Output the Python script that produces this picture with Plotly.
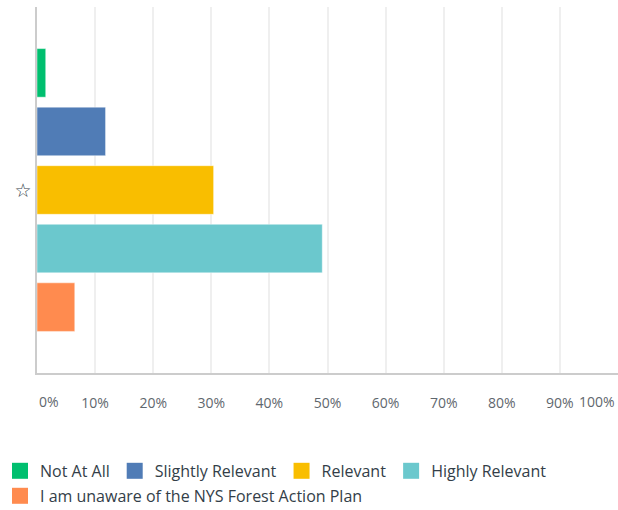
import plotly.graph_objects as go

categories = ["☆"]
series_names = ["Not At All", "Slightly Relevant", "Relevant", "Highly Relevant",
                "I am unaware of the NYS Forest Action Plan"]
series_values = [1.5, 11.8, 30.4, 49.1, 6.5]
series_colors = ["#00BF6F", "#507CB6", "#F9BE00", "#6BC8CD", "#FF8B4F"]
legend_rows = ["legend", "legend", "legend", "legend", "legend2"]
tick_values = [0, 10, 20, 30, 40, 50, 60, 70, 80, 90, 100]
tick_labels = ["0%", "10%", "20%", "30%", "40%", "50%", "60%", "70%", "80%", "90%", "100%"]

FONT = "Open Sans"
TICK_COLOR = "#5f676e"
TEXT_COLOR = "#333e48"
fig = go.Figure()

for name, val, col in zip(series_names, series_values, series_colors):
    fig.add_trace(go.Bar(
        y=categories, x=[val], name=name, orientation="h",
        marker=dict(color=col, line=dict(color="rgba(255,255,255,0.45)", width=1)),
        showlegend=False, hoverinfo="skip",
    ))

# legend entries (larger square swatches)
for name, col, lg in zip(series_names, series_colors, legend_rows):
    fig.add_trace(go.Scatter(
        y=categories, x=[None], name=name, mode="markers",
        marker=dict(symbol="square", size=16, color=col),
        showlegend=True, hoverinfo="skip", legend=lg,
    ))

# edge tick labels drawn as annotations so they are not clipped
edge_annos = []
for v, t in zip(tick_values, tick_labels):
    if v in (0, 100):
        edge_annos.append(dict(
            x=v, y=0, xref="x", yref="paper", text=t, showarrow=False,
            xanchor="left" if v == 0 else "right", yanchor="middle",
            xshift=0 if v == 0 else -1, yshift=-28,
            font=dict(family=FONT, size=14, color=TICK_COLOR, weight=500)))

inner_vals = [v for v in tick_values if 0 < v < 100]
inner_text = [t for v, t in zip(tick_values, tick_labels) if 0 < v < 100]

legend_common = dict(
    orientation="h", xref="container", x=-0.003, xanchor="left",
    yref="container", yanchor="top", bgcolor="rgba(0,0,0,0)",
    font=dict(family=FONT, size=16, color=TEXT_COLOR, weight=500),
    itemsizing="trace", tracegroupgap=0,
)

fig.update_layout(
    width=618, height=510,
    margin=dict(l=37, r=0, t=7, b=137, autoexpand=False),
    paper_bgcolor="white", plot_bgcolor="white",
    barmode="group", bargap=0.2, bargroupgap=0.17,
    font=dict(family=FONT, color=TEXT_COLOR),
    xaxis=dict(
        range=[0, 100], tickmode="array", tickvals=inner_vals, ticktext=inner_text,
        showgrid=True, gridcolor="#efefef", gridwidth=1.5,
        showline=True, linecolor="#cccccc", linewidth=1.5,
        zeroline=False, ticks="", ticklabelstandoff=16, automargin=False,
        tickfont=dict(family=FONT, size=14, color=TICK_COLOR, weight=500),
        fixedrange=True,
    ),
    yaxis=dict(
        autorange="reversed", showgrid=False, showline=True,
        linecolor="#cccccc", linewidth=1.5, ticks="", automargin=False,
        tickfont=dict(family="DejaVu Sans", size=19, color=TEXT_COLOR, weight="bold"),
        ticklabelstandoff=0, fixedrange=True,
    ),
    legend=dict(legend_common, y=0.11),
    legend2=dict(legend_common, y=0.061),
    annotations=edge_annos,
)

fig.write_html("out.html", config={"displayModeBar": False},
               post_script="document.body.style.margin='0';")
